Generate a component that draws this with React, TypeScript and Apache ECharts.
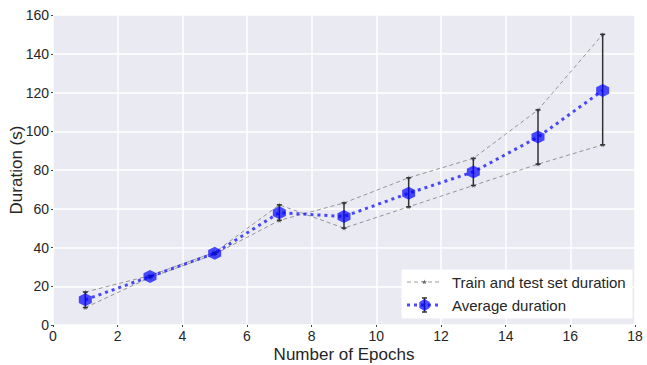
import React, { useEffect, useRef } from "react";
import * as echarts from "echarts";

const epochs = [1, 3, 5, 7, 9, 11, 13, 15, 17];
const runA = [17, 25.5, 37.5, 62, 50, 61, 72, 83, 93];
const runB = [9, 24.5, 36.5, 54, 63, 76, 86, 111, 150];
const average = [13, 25, 37, 58, 56, 68, 79, 97, 121];
const xTicks = [0, 2, 4, 6, 8, 10, 12, 14, 16, 18];
const yTicks = [0, 20, 40, 60, 80, 100, 120, 140, 160];

const STAR =
  "path://M50,0 L61,35 L98,35 L68,57 L79,91 L50,70 L21,91 L32,57 L2,35 L39,35 Z";
const HEX = "path://M50,0 L93,25 L93,75 L50,100 L7,75 L7,25 Z";
const FONT = "Liberation Sans, Arial, sans-serif";

export default function App() {
  const ref = useRef<HTMLDivElement>(null);
  useEffect(() => {
    if (!ref.current) return;
    const chart = echarts.init(ref.current, undefined, { renderer: "svg" });
    const errData = epochs.map((x, i) => [
      x,
      Math.min(runA[i], runB[i]),
      Math.max(runA[i], runB[i]),
    ]);
    const grayLine = (name: string, vals: number[]) => ({
      type: "line",
      name,
      data: epochs.map((x, i) => [x, vals[i]]),
      symbol: STAR,
      symbolSize: 5,
      itemStyle: { color: "rgba(40,40,40,0.6)" },
      lineStyle: { color: "rgba(90,90,90,0.6)", width: 1, type: [4, 3] },
      z: 2,
    });
    const LX = 402;
    const LY = 270;
    chart.setOption({
      animation: false,
      backgroundColor: "#ffffff",
      textStyle: { fontFamily: FONT },
      grid: {
        left: 53,
        right: 12,
        top: 15,
        bottom: 40,
        containLabel: false,
        outerBoundsMode: "none",
      },
      xAxis: {
        type: "value",
        min: 0,
        max: 18,
        interval: 2,
        name: "Number of Epochs",
        nameLocation: "middle",
        nameGap: 21,
        nameMoveOverlap: false,
        nameTextStyle: { fontSize: 17, color: "#262626", fontFamily: FONT },
        axisLine: { show: false },
        axisTick: { show: true, length: 2, lineStyle: { color: "#444" } },
        axisLabel: {
          fontSize: 14,
          color: "#262626",
          margin: 4,
          fontFamily: FONT,
          formatter: (v: number) => (xTicks.includes(v) ? String(v) : ""),
        },
        splitLine: { show: true, lineStyle: { color: "#ffffff", width: 1.5 } },
      },
      yAxis: {
        type: "value",
        min: 0,
        max: 160,
        interval: 20,
        name: "Duration (s)",
        nameLocation: "middle",
        nameGap: 28,
        nameMoveOverlap: false,
        nameTextStyle: { fontSize: 17, color: "#262626", fontFamily: FONT },
        axisLine: { show: false },
        axisTick: { show: true, length: 2, lineStyle: { color: "#444" } },
        axisLabel: {
          fontSize: 14,
          color: "#262626",
          margin: 4,
          fontFamily: FONT,
          formatter: (v: number) => (yTicks.includes(v) ? String(v) : ""),
        },
        splitLine: { show: true, lineStyle: { color: "#ffffff", width: 1.5 } },
        splitArea: { show: true, areaStyle: { color: ["#EAEAF2", "#EAEAF2"] } },
      },
      series: [
        grayLine("Train and test set duration", runA),
        grayLine("Train and test set duration ", runB),
        {
          type: "custom",
          name: "errors",
          data: errData,
          z: 3,
          renderItem: (params: any, api: any) => {
            const x = api.value(0);
            const lo = api.coord([x, api.value(1)]);
            const hi = api.coord([x, api.value(2)]);
            const cap = 2.5;
            const st = { stroke: "#333333", lineWidth: 1.5 };
            return {
              type: "group",
              children: [
                { type: "line", shape: { x1: lo[0], y1: lo[1], x2: hi[0], y2: hi[1] }, style: st },
                { type: "line", shape: { x1: lo[0] - cap, y1: lo[1], x2: lo[0] + cap, y2: lo[1] }, style: st },
                { type: "line", shape: { x1: hi[0] - cap, y1: hi[1], x2: hi[0] + cap, y2: hi[1] }, style: st },
              ],
            };
          },
        },
        {
          type: "line",
          name: "Average duration",
          data: epochs.map((x, i) => [x, average[i]]),
          symbol: HEX,
          symbolSize: 13,
          itemStyle: { color: "rgba(0,0,255,0.7)", borderWidth: 0 },
          lineStyle: { color: "rgba(0,0,255,0.7)", width: 3, type: [3, 4] },
          z: 4,
        },
      ],
      graphic: {
        elements: [
          {
            type: "rect",
            x: LX,
            y: LY,
            z: 100,
            shape: { x: 0, y: 0, width: 230, height: 48 },
            style: { fill: "#ffffff", stroke: "#ffffff" },
          },
          {
            type: "line",
            x: LX,
            y: LY,
            z: 101,
            shape: { x1: 5, y1: 12, x2: 40, y2: 12 },
            style: { stroke: "rgba(90,90,90,0.6)", lineWidth: 1, lineDash: [4, 3] },
          },
          {
            type: "polygon",
            x: LX,
            y: LY,
            z: 102,
            shape: {
              points: [
                [22.5, 9.5], [23.3, 11.3], [25.2, 11.3], [23.7, 12.4], [24.2, 14.3],
                [22.5, 13.2], [20.8, 14.3], [21.3, 12.4], [19.8, 11.3], [21.7, 11.3],
              ],
            },
            style: { fill: "rgba(40,40,40,0.6)" },
          },
          {
            type: "text",
            x: LX + 50,
            y: LY + 12,
            z: 102,
            style: {
              text: "Train and test set duration",
              fontSize: 15,
              fontFamily: FONT,
              fill: "#262626",
              verticalAlign: "middle",
            },
          },
          {
            type: "line",
            x: LX,
            y: LY,
            z: 101,
            shape: { x1: 5, y1: 35, x2: 40, y2: 35 },
            style: { stroke: "rgba(0,0,255,0.7)", lineWidth: 3, lineDash: [3, 4] },
          },
          {
            type: "line",
            x: LX,
            y: LY,
            z: 102,
            shape: { x1: 22.5, y1: 28, x2: 22.5, y2: 42 },
            style: { stroke: "#333333", lineWidth: 1.5 },
          },
          {
            type: "line",
            x: LX,
            y: LY,
            z: 102,
            shape: { x1: 20, y1: 28, x2: 25, y2: 28 },
            style: { stroke: "#333333", lineWidth: 1.5 },
          },
          {
            type: "line",
            x: LX,
            y: LY,
            z: 102,
            shape: { x1: 20, y1: 42, x2: 25, y2: 42 },
            style: { stroke: "#333333", lineWidth: 1.5 },
          },
          {
            type: "polygon",
            x: LX,
            y: LY,
            z: 103,
            shape: {
              points: [
                [22.5, 29], [27.7, 32], [27.7, 38], [22.5, 41], [17.3, 38], [17.3, 32],
              ],
            },
            style: { fill: "rgba(0,0,255,0.7)" },
          },
          {
            type: "text",
            x: LX + 50,
            y: LY + 35,
            z: 102,
            style: {
              text: "Average duration",
              fontSize: 15,
              fontFamily: FONT,
              fill: "#262626",
              verticalAlign: "middle",
            },
          },
        ],
      },
    });
    return () => chart.dispose();
  }, []);
  return (
    <div
      ref={ref}
      style={{ position: "fixed", left: 0, top: 0, width: 647, height: 365 }}
    />
  );
}
